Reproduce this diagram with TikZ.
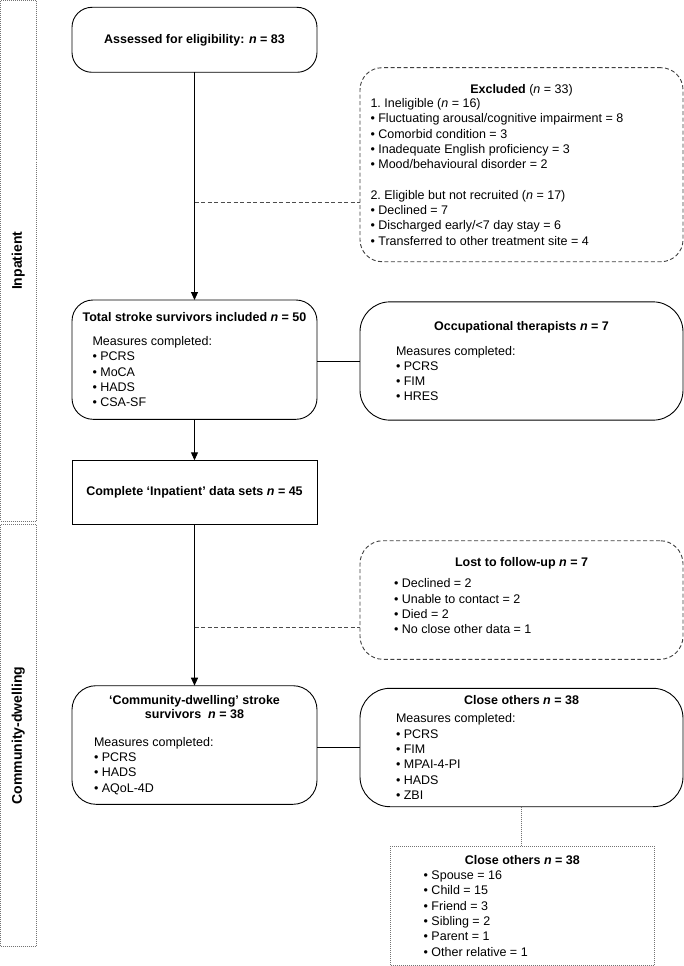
\documentclass[tikz,border=0pt]{standalone}
\usepackage{fontspec}
\setmainfont{Liberation Sans}
\usetikzlibrary{arrows.meta}
\tikzset{
  box/.style={draw=black, line width=0.9pt, inner sep=0pt, outer sep=0pt, align=center,
    font=\fontsize{12.5}{15.3}\selectfont},
  rbox/.style={box, rounded corners=#1},
  dashbox/.style={box, draw=black!75, dash pattern=on 4pt off 2.5pt, rounded corners=#1},
  dotbox/.style={box, draw=black!55, line width=0.8pt, dash pattern=on 1pt off 1pt},
  sidebox/.style={draw=black!55, line width=0.8pt, dash pattern=on 1pt off 1pt, inner sep=0pt, outer sep=0pt},
  sidelabel/.style={font=\bfseries\fontsize{14}{16}\selectfont, rotate=90, inner sep=0pt},
  arr/.style={line width=0.9pt, -{Triangle[length=8pt,width=7pt]}},
  link/.style={line width=0.9pt},
  dlink/.style={line width=0.9pt, draw=black!70, dash pattern=on 4pt off 2.5pt},
  dotlink/.style={line width=0.8pt, draw=black!55, dash pattern=on 1pt off 1pt},
}
\begin{document}
\begin{tikzpicture}[x=1pt,y=-1pt]
\useasboundingbox (0,0) rectangle (684,966);

% sidebar
\node[sidebox, minimum width=35.5pt, minimum height=520.5pt, anchor=north west] (inpat) at (0.5,0.5) {};
\node[sidelabel] (inpatlbl) at (inpat.center) {Inpatient};
\node[sidebox, minimum width=35.5pt, minimum height=422.4pt, anchor=north west] (commside) at (0.5,524.3) {};
\node[sidelabel] (commlbl) at (commside.center) {Community-dwelling};

% boxes
\node[rbox=20pt, minimum width=245pt, minimum height=65pt] (elig) at (194.5,39.8)
  {\bfseries Assessed for eligibility: \textit{n} = 83};

\node[dashbox=22pt, minimum width=323pt, minimum height=194pt] (excl) at (521.5,164.7)
  {\begin{minipage}{323pt}\centering\textbf{Excluded} (\textit{n} = 33)\par\vspace{-1pt}
   \raggedright\leftskip=10.5pt
   1.\ Ineligible (\textit{n} = 16)\\
   • Fluctuating arousal/cognitive impairment = 8\\
   • Comorbid condition = 3\\
   • Inadequate English proficiency = 3\\
   • Mood/behavioural disorder = 2\\[15.3pt]
   2.\ Eligible but not recruited (\textit{n} = 17)\\
   • Declined = 7\\
   • Discharged early/<7 day stay = 6\\
   • Transferred to other treatment site = 4
   \end{minipage}};

\node[rbox=21pt, minimum width=245pt, minimum height=119.3pt] (surv) at (194.5,359.65)
  {\begin{minipage}{245pt}\centering\textbf{Total stroke survivors included \textit{n} = 50}\par\vspace{8.7pt}
   \raggedright\leftskip=20.5pt
   Measures completed:\\
   • PCRS\\
   • MoCA\\
   • HADS\\
   • CSA-SF
   \end{minipage}};

\node[rbox=30pt, minimum width=323pt, minimum height=118.3pt] (ot) at (521.5,361)
  {\begin{minipage}{323pt}\centering\textbf{Occupational therapists \textit{n} = 7}\par\vspace{9.7pt}
   \raggedright\leftskip=36pt
   Measures completed:\\
   • PCRS\\
   • FIM\\
   • HRES
   \end{minipage}};

\node[box, minimum width=245pt, minimum height=64pt] (comp) at (194.5,492.3)
  {\bfseries Complete ‘Inpatient’ data sets \textit{n} = 45};

\node[dashbox=23pt, minimum width=323pt, minimum height=118.6pt] (lost) at (521.5,600)
  {\begin{minipage}{323pt}\centering\textbf{Lost to follow-up \textit{n} = 7}\par\vspace{6.5pt}
   \raggedright\leftskip=34pt
   • Declined = 2\\
   • Unable to contact = 2\\
   • Died = 2\\
   • No close other data = 1\par
   \vspace{9pt}\kern0pt
   \end{minipage}};

\node[rbox=24pt, minimum width=245pt, minimum height=118.6pt] (comm) at (194.5,745)
  {\begin{minipage}{245pt}\centering\bfseries ‘Community-dwelling’ stroke\\[-1pt]
   survivors\ \ \textit{n} = 38\par\vspace{12pt}
   \mdseries\raggedright\leftskip=22pt
   Measures completed:\\
   • PCRS\\
   • HADS\\
   • AQoL-4D
   \end{minipage}};

\node[rbox=30pt, minimum width=323pt, minimum height=118.4pt] (close) at (521.5,747.5)
  {\begin{minipage}{323pt}\centering\textbf{Close others \textit{n} = 38}\par\vspace{3pt}
   \raggedright\leftskip=36pt
   Measures completed:\\
   • PCRS\\
   • FIM\\
   • MPAI-4-PI\\
   • HADS\\
   • ZBI
   \end{minipage}};

\node[dotbox, minimum width=263.3pt, minimum height=119.3pt] (cdet) at (522.3,905.7)
  {\begin{minipage}{263.3pt}\centering\textbf{Close others \textit{n} = 38}\par
   \raggedright\leftskip=33pt
   • Spouse = 16\\
   • Child = 15\\
   • Friend = 3\\
   • Sibling = 2\\
   • Parent = 1\\
   • Other relative = 1
   \end{minipage}};

% connectors
\draw[arr] (elig.south) -- (surv.north);
\coordinate (j1) at (194.5,202.3);
\draw[dlink] (j1) -- (j1 -| excl.west);
\draw[link] (ot.west -| surv.east) -- (ot.west);
\draw[arr] (surv.south) -- (comp.north);
\draw[arr] (comp.south) -- (comm.north);
\coordinate (j2) at (194.5,627.3);
\draw[dlink] (j2) -- (j2 -| lost.west);
\draw[link] (close.west -| comm.east) -- (close.west);
\draw[dotlink] (close.south) -- (close.south |- cdet.north);
\end{tikzpicture}
\end{document}
